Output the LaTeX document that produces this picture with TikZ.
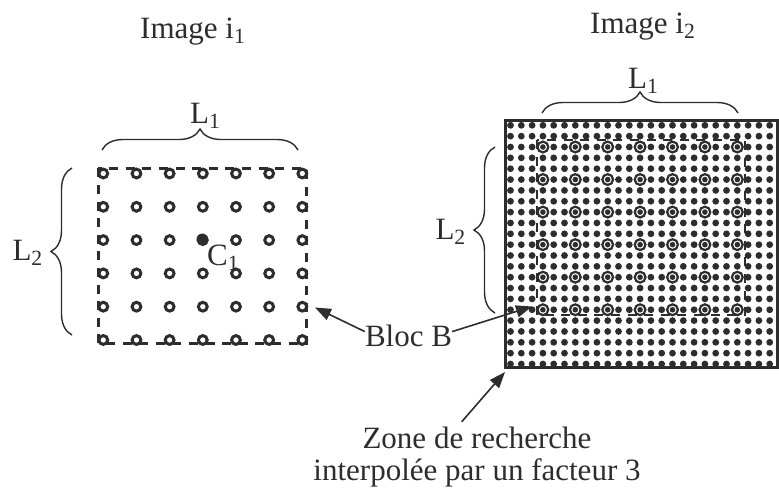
\documentclass[tikz,border=0pt]{standalone}
\usepackage{fontspec}
\setmainfont{Liberation Serif}
\usepackage{tikz}
\usetikzlibrary{arrows.meta,decorations.pathreplacing}
\definecolor{ink}{RGB}{45,45,45}

\begin{document}
\begin{tikzpicture}[x=1pt,y=-1pt,
  txt/.style={font=\fontsize{31}{33}\selectfont,text=ink,inner sep=0pt},
  grp/.style={decorate,decoration={brace,amplitude=21pt},draw=ink,line width=1.4pt},
  blocline/.style={draw=ink,line width=2.6pt,dash pattern=on 9pt off 7.6pt},
  pixring/.style={draw=ink,line width=3pt,fill=white},
  subring/.style={draw=ink,line width=2.2pt,fill=white},
  ptr/.style={-{Triangle[length=16pt,width=12pt]},draw=ink,line width=1.6pt}]
  \useasboundingbox (0,0) rectangle (779,488);

  % titles
  \node[txt,anchor=base west] (titA) at (140,38) {Image i\textsubscript{1}};
  \node[txt,anchor=base west] (titB) at (590,33) {Image i\textsubscript{2}};

  % block B in image i1: 7 x 6 pixels
  \foreach \i in {0,...,6}
    \foreach \j in {0,...,5}
      \draw[pixring] (103.3+33.17*\i,173.5+33.3*\j) circle (4.4);
  \draw[blocline] (98.3,168.3) rectangle (306.7,343.3);
  \fill[ink] (202.3,239.3) circle (5.8);
  \node[txt,anchor=base west] (cA) at (207,265) {C\textsubscript{1}};

  % sizes of the block
  \draw[grp] (102,150) -- (298,150);
  \node[txt,anchor=base west] (lA) at (190,123) {L\textsubscript{1}};
  \draw[grp] (72,335) -- (72,168);
  \node[txt,anchor=base east] (hA) at (43,260) {L\textsubscript{2}};

  % search zone in image i2, interpolated by 3
  \foreach \k in {0,...,24}
    \foreach \m in {0,...,22}
      \fill[ink] (510.5+10.8*\k,125.3+10.85*\m) circle (3.4);
  \draw[ink,line width=3pt] (505,120) rectangle (777.5,367);
  \foreach \i in {0,...,6}
    \foreach \j in {0,...,5} {
      \draw[subring] (542.9+32.4*\i,147+32.55*\j) circle (5.4);
      \fill[ink] (542.9+32.4*\i,147+32.55*\j) circle (2.8);
    }
  \draw[blocline] (537,140) rectangle (745,315);

  \draw[grp] (542,113) -- (738,113);
  \node[txt,anchor=base west] (lB) at (628,88) {L\textsubscript{1}};
  \draw[grp] (495,313) -- (495,147);
  \node[txt,anchor=base east] (hB) at (466,239) {L\textsubscript{2}};

  % labels and pointers
  \node[txt,anchor=base] (bloc) at (408.5,346) {Bloc B};
  \node[txt,anchor=base] (zoneA) at (477,448) {Zone de recherche};
  \node[txt,anchor=base] (zoneB) at (477,480) {interpolée par un facteur 3};
  \coordinate (cornA) at (315,307.5);
  \coordinate (cornB) at (532,306.5);
  \coordinate (cornZ) at (505,372);
  \draw[ptr] (bloc.175) -- (cornA);
  \draw[ptr] (bloc.5) -- (cornB);
  \draw[ptr,shorten <=6pt] (zoneA.150) -- (cornZ);
\end{tikzpicture}
\end{document}
